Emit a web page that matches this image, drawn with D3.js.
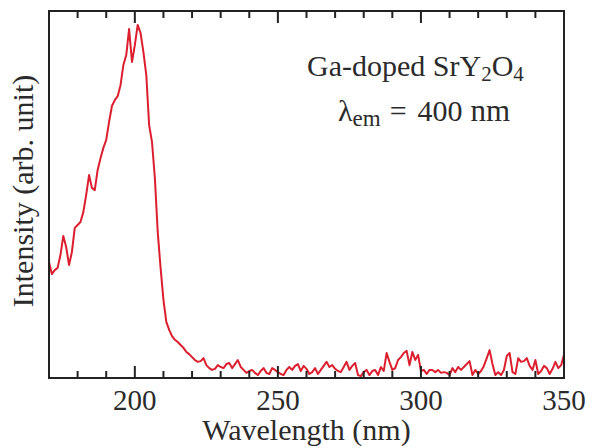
<!DOCTYPE html>
<html>
<head>
<meta charset="utf-8">
<title>Ga-doped SrY2O4 excitation</title>
<style>
body { margin: 0; background: #fff; }
svg { display: block; }
text { font-family: "Liberation Serif", "Times New Roman", serif; fill: #2b2b2b; }
</style>
<script src="https://d3js.org/d3.v7.min.js"></script>
</head>
<body>
<svg id="chart" width="593" height="448"></svg>
<script>
// wavelength (nm), 1 nm steps
const wavelength = [
  170,171,172,173,174,175,176,177,178,179,180,181,182,183,184,185,186,187,188,189,
  190,191,192,193,194,195,196,197,198,199,200,201,202,203,204,205,206,207,208,209,
  210,211,212,213,214,215,216,217,218,219,220,221,222,223,224,225,226,227,228,229,
  230,231,232,233,234,235,236,237,238,239,240,241,242,243,244,245,246,247,248,249,
  250,251,252,253,254,255,256,257,258,259,260,261,262,263,264,265,266,267,268,269,
  270,271,272,273,274,275,276,277,278,279,280,281,282,283,284,285,286,287,288,289,
  290,291,292,293,294,295,296,297,298,299,300,301,302,303,304,305,306,307,308,309,
  310,311,312,313,314,315,316,317,318,319,320,321,322,323,324,325,326,327,328,329,
  330,331,332,333,334,335,336,337,338,339,340,341,342,343,344,345,346,347,348,349,
  350
];
// intensity (arb. unit, 0-100)
const intensity = [
  31.6,28.3,29.4,30.0,33.5,38.7,35.7,30.8,34.3,40.9,41.7,42.5,45.2,49.9,55.3,51.8,51.2,56.7,59.9,62.7,
  64.9,69.8,74.1,75.7,76.8,79.8,85.3,88.0,95.1,86.1,90.7,96.2,94.0,88.8,82.6,68.9,64.3,54.5,39.8,30.0,
  21.3,15.3,13.1,11.4,10.4,9.8,9.0,8.2,7.1,6.5,5.7,4.9,4.4,4.6,5.4,3.5,2.7,2.2,2.5,3.5,
  3.0,2.7,3.8,4.1,2.7,3.8,4.9,3.0,2.2,1.4,1.9,2.2,1.4,0.8,1.9,2.7,1.4,1.1,2.7,2.2,
  1.6,1.1,0.8,2.2,3.0,2.2,3.3,3.8,1.9,3.3,2.5,1.1,1.6,2.7,1.1,2.2,3.3,4.4,3.0,3.5,
  2.5,1.9,1.6,3.0,4.4,2.2,3.3,4.1,0.8,0.5,1.6,2.2,0.8,1.9,2.2,0.8,3.0,1.9,6.8,4.4,
  2.2,2.7,4.9,5.7,6.8,7.4,3.5,7.1,4.9,6.3,1.9,2.2,1.1,2.2,2.2,1.6,2.2,1.4,1.6,1.4,
  0.8,2.7,1.6,3.0,2.2,3.0,3.8,4.6,0.8,2.2,1.1,1.9,3.3,5.4,7.6,3.8,0.8,1.6,0.8,2.2,
  6.0,6.8,1.6,1.1,5.4,4.4,4.6,5.4,3.3,2.2,4.9,1.1,1.9,3.3,2.7,1.1,2.5,4.4,2.7,3.5,
  6.3
];
const majorTicks = [200, 250, 300, 350];
const minorTicks = [180, 190, 210, 220, 230, 240, 260, 270, 280, 290,
                    310, 320, 330, 340];

const svg = d3.select("#chart");
const margin = { left: 49, right: 29, top: 11, bottom: 70 };
const W = +svg.attr("width"), H = +svg.attr("height");
const bottom = H - margin.bottom;

const x = d3.scaleLinear().domain([170, 350]).range([margin.left, W - margin.right]);
const y = d3.scaleLinear().domain([0, 100]).range([bottom, margin.top]);

const data = wavelength.map((w, i) => ({ w: w, v: intensity[i] }));

// curve
svg.append("path")
   .datum(data)
   .attr("fill", "none")
   .attr("stroke", "#dc1f2e")
   .attr("stroke-width", 2)
   .attr("stroke-linejoin", "round")
   .attr("d", d3.line().x(d => x(d.w)).y(d => y(d.v)));

// frame
svg.append("rect")
   .attr("x", margin.left)
   .attr("y", margin.top)
   .attr("width", W - margin.left - margin.right)
   .attr("height", bottom - margin.top)
   .attr("fill", "none")
   .attr("stroke", "#222")
   .attr("stroke-width", 2);

// inward ticks on bottom and top edges
const tickMarks = majorTicks.map(t => ({ t: t, len: 12 }))
    .concat(minorTicks.map(t => ({ t: t, len: 7 })));

svg.append("g").selectAll("line")
   .data(tickMarks).enter().append("line")
   .attr("x1", d => x(d.t)).attr("x2", d => x(d.t))
   .attr("y1", bottom).attr("y2", d => bottom - d.len)
   .attr("stroke", "#222").attr("stroke-width", 2);

svg.append("g").selectAll("line")
   .data(tickMarks).enter().append("line")
   .attr("x1", d => x(d.t)).attr("x2", d => x(d.t))
   .attr("y1", margin.top).attr("y2", d => margin.top + d.len)
   .attr("stroke", "#222").attr("stroke-width", 2);

svg.append("g").selectAll("text")
   .data(majorTicks).enter().append("text")
   .attr("x", d => x(d))
   .attr("y", 410)
   .attr("text-anchor", "middle")
   .style("font-size", "29px")
   .text(d => d);

// axis titles
svg.append("text")
   .attr("x", (margin.left + W - margin.right) / 2)
   .attr("y", 440)
   .attr("text-anchor", "middle")
   .style("font-size", "30px")
   .text("Wavelength (nm)");

svg.append("text")
   .attr("transform", "translate(33,191) rotate(-90)")
   .attr("text-anchor", "middle")
   .style("font-size", "30px")
   .text("Intensity (arb. unit)");

// annotation
const t1 = svg.append("text").attr("x", 307).attr("y", 76).style("font-size", "30px");
t1.append("tspan").text("Ga-doped SrY");
t1.append("tspan").attr("dy", 5).style("font-size", "21px").text("2");
t1.append("tspan").attr("dy", -5).text("O");
t1.append("tspan").attr("dy", 5).style("font-size", "21px").text("4");

const t2 = svg.append("text").attr("x", 338).attr("y", 121).style("font-size", "30px");
t2.append("tspan").text("λ");
t2.append("tspan").attr("dy", 5).style("font-size", "23px").text("em");
t2.append("tspan").attr("dy", -5).attr("dx", 9).text("=");
t2.append("tspan").attr("dx", 11).text("400");
t2.append("tspan").attr("dx", 8).style("font-size", "31px").text("nm");
</script>
</body>
</html>
